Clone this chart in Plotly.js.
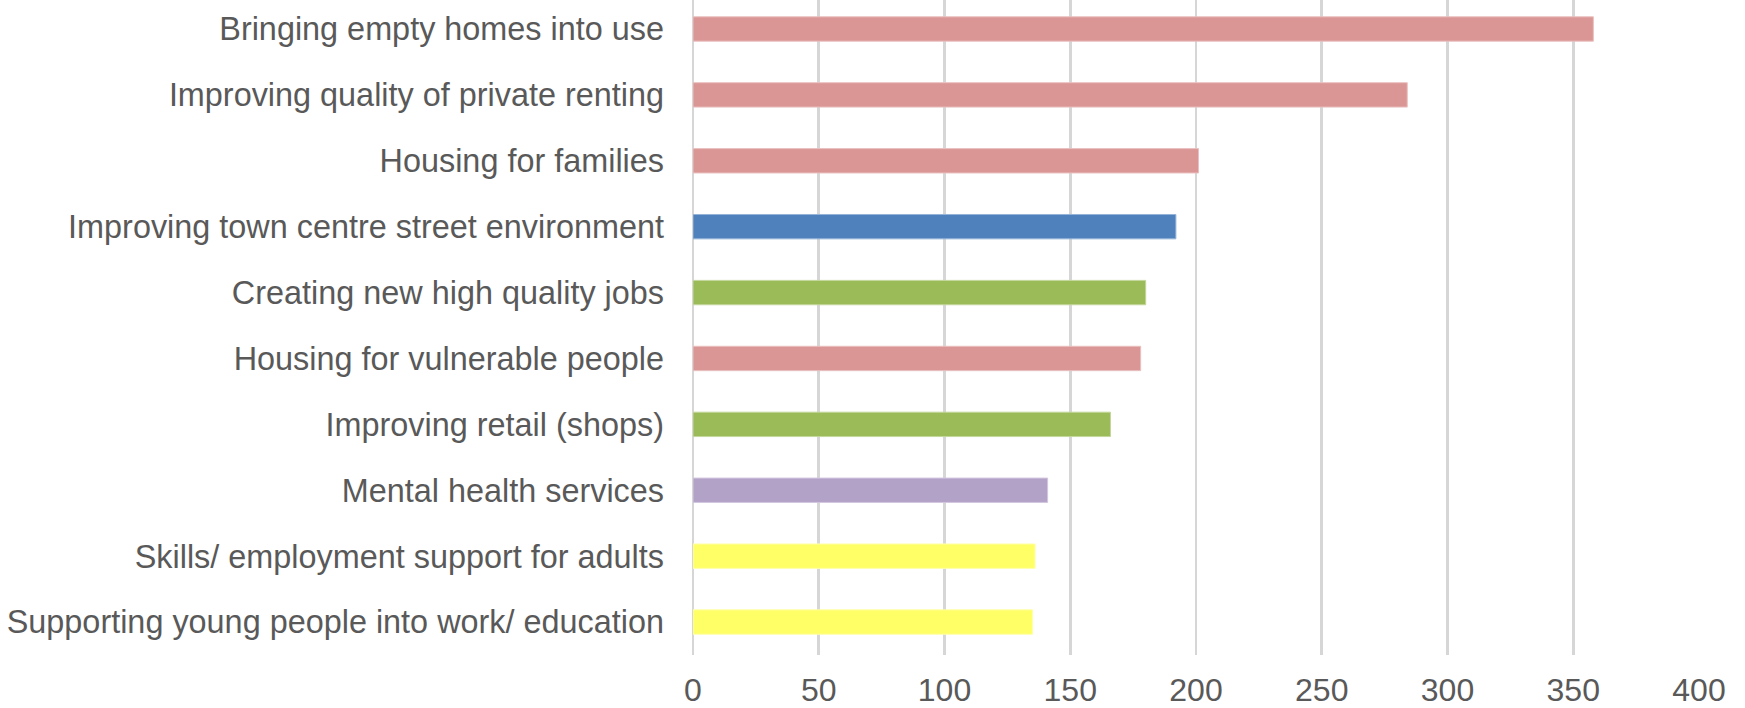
<!DOCTYPE html>
<html>
<head>
<meta charset="utf-8">
<script src="https://cdn.plot.ly/plotly-3.0.1.min.js"></script>
<style>
  html, body { margin: 0; padding: 0; background: #ffffff; }
  #chart { width: 1745px; height: 708px; }
</style>
</head>
<body>
<div id="chart"></div>
<script>
// Data (top to bottom as shown)
const categories = [
  "Bringing empty homes into use",
  "Improving quality of private renting",
  "Housing for families",
  "Improving town centre street environment",
  "Creating new high quality jobs",
  "Housing for vulnerable people",
  "Improving retail (shops)",
  "Mental health services",
  "Skills/ employment support for adults",
  "Supporting young people into work/ education"
];
const values = [358, 284, 201, 192, 180, 178, 166, 141, 136, 135];
const xTicks = [0, 50, 100, 150, 200, 250, 300, 350, 400];

// Styles
const barColors = [
  "#DA9694", "#DA9694", "#DA9694", "#4F81BD", "#9BBB59",
  "#DA9694", "#9BBB59", "#B3A2C7", "#FFFF66", "#FFFF66"
];
const lineColors = [
  "#E9C0BF", "#E9C0BF", "#E9C0BF", "#95B3D7", "#C3D69B",
  "#E9C0BF", "#C3D69B", "#D1C6DD", "#FFFFA8", "#FFFFA8"
];

const trace = {
  type: "bar",
  orientation: "h",
  x: values,
  y: categories,
  marker: { color: barColors, line: { color: lineColors, width: 1 } },
  hoverinfo: "x+y"
};

const layout = {
  width: 1745,
  height: 708,
  margin: { l: 693, r: 46, t: 0, b: 53 },
  paper_bgcolor: "#ffffff",
  plot_bgcolor: "#ffffff",
  bargap: 0.63,
  showlegend: false,
  font: { family: "Liberation Sans, Arial, sans-serif", color: "#595959", size: 32 },
  xaxis: {
    range: [0, 400],
    tickvals: xTicks,
    ticktext: xTicks.map(String),
    showgrid: true,
    gridcolor: "#D6D6D6",
    gridwidth: 2.8,
    zeroline: true,
    zerolinecolor: "#D6D6D6",
    zerolinewidth: 2.8,
    showline: false,
    ticks: "",
    ticklabelstandoff: 13,
    tickfont: { size: 32, color: "#595959" },
    fixedrange: true
  },
  yaxis: {
    type: "category",
    categoryorder: "array",
    categoryarray: categories,
    range: [9.5, -0.44],
    showgrid: false,
    zeroline: false,
    showline: false,
    ticks: "",
    ticklabelstandoff: 28,
    tickfont: { size: 32.4, color: "#595959" },
    fixedrange: true
  }
};

Plotly.newPlot("chart", [trace], layout, { displayModeBar: false, staticPlot: true });
</script>
</body>
</html>
